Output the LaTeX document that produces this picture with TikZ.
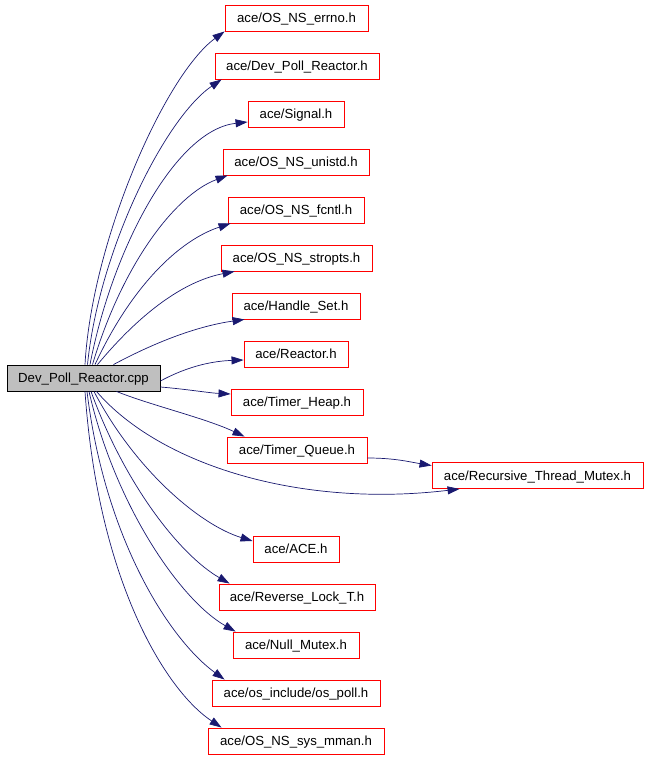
\documentclass[tikz,border=0pt]{standalone}
\usepackage{fontspec}
\setmainfont{Liberation Sans}
\usetikzlibrary{arrows.meta}
\definecolor{edgeblue}{HTML}{191970}
\definecolor{boxred}{HTML}{FF0000}
\definecolor{cppgray}{HTML}{BFBFBF}
\begin{document}
\begin{tikzpicture}[x=1pt,y=-1pt,
  hbox/.style={draw=boxred,line width=0.9pt,fill=white,minimum height=26pt,inner sep=0pt,text height=9.3pt,text depth=0pt,font=\fontsize{13.2}{15}\selectfont},
  rootbox/.style={draw=black,line width=0.9pt,fill=cppgray,minimum height=26pt,inner sep=0pt,text height=9.3pt,text depth=0pt,font=\fontsize{13.2}{15}\selectfont},
  dep/.style={draw=edgeblue,line width=0.7pt,-{Triangle[length=12pt,width=8pt]}}]
\useasboundingbox (0,0) rectangle (648,757);
\node[rootbox,minimum width=153pt] (cpp) at (83.5,378) {Dev\_Poll\_Reactor.cpp};
\node[hbox,minimum width=143pt] (errno) at (296.5,18) {ace/OS\_NS\_errno.h};
\node[hbox,minimum width=164pt] (dev) at (297,66) {ace/Dev\_Poll\_Reactor.h};
\node[hbox,minimum width=96pt] (signal) at (296,114) {ace/Signal.h};
\node[hbox,minimum width=146pt] (unistd) at (296,162) {ace/OS\_NS\_unistd.h};
\node[hbox,minimum width=136pt] (fcntl) at (296,210) {ace/OS\_NS\_fcntl.h};
\node[hbox,minimum width=151pt] (stropts) at (296.5,258) {ace/OS\_NS\_stropts.h};
\node[hbox,minimum width=128pt] (handle) at (296,306) {ace/Handle\_Set.h};
\node[hbox,minimum width=104pt] (reactor) at (296,354) {ace/Reactor.h};
\node[hbox,minimum width=132pt] (heap) at (297,402) {ace/Timer\_Heap.h};
\node[hbox,minimum width=140pt] (queue) at (297,450) {ace/Timer\_Queue.h};
\node[hbox,minimum width=211pt] (rec) at (537.5,475.5) {ace/Recursive\_Thread\_Mutex.h};
\node[hbox,minimum width=86pt] (ace) at (296,549) {ace/ACE.h};
\node[hbox,minimum width=156pt] (reverse) at (297,597) {ace/Reverse\_Lock\_T.h};
\node[hbox,minimum width=126pt] (null) at (296,645) {ace/Null\_Mutex.h};
\node[hbox,minimum width=168pt] (poll) at (296,693) {ace/os\_include/os\_poll.h};
\node[hbox,minimum width=176pt] (mman) at (296,741) {ace/OS\_NS\_sys\_mman.h};
% upward edges
\draw[dep] ([xshift=1.5pt]cpp.north) .. controls (92,240) and (165,75) .. (errno.south west);
\draw[dep] ([xshift=4pt]cpp.north) .. controls (99,250) and (165,118) .. ([xshift=7pt]dev.south west);
\draw[dep] ([xshift=6.5pt]cpp.north) .. controls (112,250) and (175,130) .. ([yshift=-8pt]signal.west);
\draw[dep] ([xshift=9pt]cpp.north) .. controls (122,265) and (175,195) .. ([xshift=5pt]unistd.south west);
\draw[dep] ([xshift=11.5pt]cpp.north) .. controls (132,285) and (180,240) .. ([xshift=3pt]fcntl.south west);
\draw[dep] ([xshift=14pt]cpp.north) .. controls (147,305) and (190,280) .. ([xshift=14pt]stropts.south west);
\draw[dep] ([xshift=30pt]cpp.north) .. controls (165,337) and (205,325) .. ([xshift=13pt]handle.south west);
\draw[dep] ([yshift=-3pt]cpp.east) .. controls (190,365) and (215,361) .. ([yshift=-6pt]reactor.west);
\draw[dep] ([yshift=-9pt]cpp.east) .. controls (185,389) and (210,393) .. ([yshift=8pt]heap.west);
\draw[dep] ([xshift=33pt]cpp.south) .. controls (150,405) and (205,418) .. ([xshift=18pt]queue.north west);
\draw[dep] ([yshift=-8pt]queue.east) .. controls (395,458) and (410,462) .. ([yshift=10pt]rec.west);
% downward edges
\draw[dep] ([xshift=13pt]cpp.south) .. controls (160,465) and (300,508) .. ([xshift=28pt]rec.south west);
\draw[dep] ([xshift=10.5pt]cpp.south) .. controls (135,470) and (200,525) .. ([yshift=8pt]ace.west);
\draw[dep] ([xshift=7.5pt]cpp.south) .. controls (125,485) and (180,555) .. ([xshift=11pt]reverse.north west);
\draw[dep] ([xshift=5.5pt]cpp.south) .. controls (115,505) and (180,600) .. ([xshift=3pt]null.north west);
\draw[dep] ([xshift=3.5pt]cpp.south) .. controls (105,540) and (170,640) .. ([xshift=13pt]poll.north west);
\draw[dep] ([xshift=1.5pt]cpp.south) .. controls (98,580) and (165,690) .. ([xshift=14pt]mman.north west);
\end{tikzpicture}
\end{document}
